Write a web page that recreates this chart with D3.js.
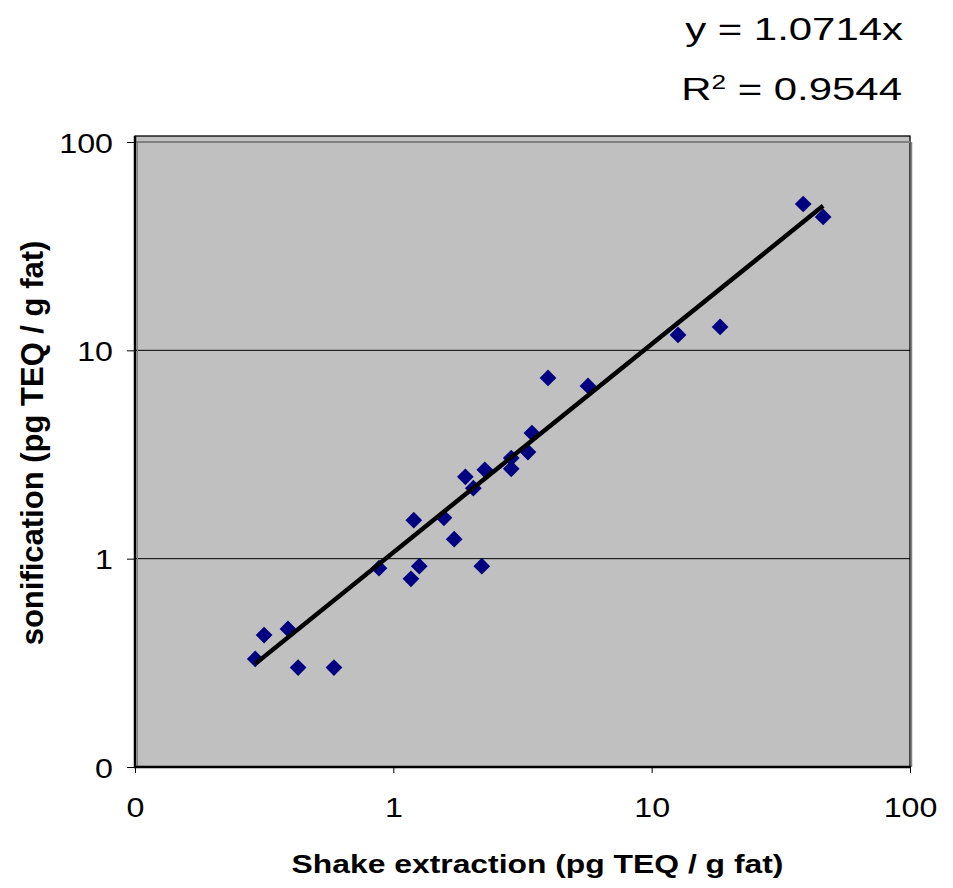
<!DOCTYPE html>
<html>
<head>
<meta charset="utf-8">
<script src="https://cdn.jsdelivr.net/npm/d3@7"></script>
<style>
  html, body { margin: 0; padding: 0; background: #fff; }
  svg { display: block; font-family: "Liberation Sans", Arial, sans-serif; }
</style>
</head>
<body>
<svg id="chart" width="953" height="888"></svg>
<script>
// ---- data ----
const shakeX = [0.292, 0.316, 0.391, 0.428, 0.589, 0.88, 1.17, 1.20, 1.26, 1.57, 1.72, 1.90, 2.04, 2.26, 2.20, 2.86, 2.86, 3.44, 3.32, 3.97, 5.67, 12.65, 18.4, 38.6, 46.1];
const sonicY = [0.33, 0.43, 0.46, 0.30, 0.30, 0.90, 0.80, 1.53, 0.92, 1.57, 1.24, 2.47, 2.18, 2.67, 0.92, 3.04, 2.70, 4.01, 3.25, 7.37, 6.75, 11.86, 12.95, 50.4, 43.7];
const slope = 1.0714;
const r2 = "0.9544";
const tickValues = [0.1, 1, 10, 100];
const tickLabels = ["0", "1", "10", "100"];
const xTitle = "Shake extraction (pg TEQ / g fat)";
const yTitle = "sonification (pg TEQ / g fat)";

const svg = d3.select("#chart");
const mLeft = 135, mRight = 910, mTop = 142, mBottom = 767, boxTop = 136;

const x = d3.scaleLog().domain([0.1, 100]).range([mLeft, mRight]);
const y = d3.scaleLog().domain([0.1, 100]).range([mBottom, mTop]);

// plot area
svg.append("rect")
  .attr("x", mLeft).attr("y", boxTop)
  .attr("width", mRight - mLeft).attr("height", mBottom - boxTop)
  .attr("fill", "#C0C0C0")
  .attr("stroke", "#000").attr("stroke-width", 1.3);

// gridlines
svg.append("g").selectAll("line")
  .data(tickValues.filter(v => v > 0.1))
  .join("line")
  .attr("x1", mLeft).attr("x2", mRight)
  .attr("y1", d => y(d)).attr("y2", d => y(d))
  .attr("stroke", d => d === 100 ? "#808080" : "#000")
  .attr("stroke-width", d => d === 100 ? 2.2 : 1);

// right gray inner edge
svg.append("line")
  .attr("x1", mRight + 1.5).attr("x2", mRight + 1.5)
  .attr("y1", mTop).attr("y2", mBottom)
  .attr("stroke", "#808080").attr("stroke-width", 1.5);

// left axis
svg.append("line")
  .attr("x1", mLeft).attr("x2", mLeft).attr("y1", boxTop).attr("y2", mBottom + 1)
  .attr("stroke", "#000").attr("stroke-width", 2.5);
svg.append("line")
  .attr("x1", mLeft + 2.5).attr("x2", mLeft + 2.5).attr("y1", mTop).attr("y2", mBottom)
  .attr("stroke", "#808080").attr("stroke-width", 1);
// bottom axis
svg.append("line")
  .attr("x1", mLeft - 1).attr("x2", mRight + 1).attr("y1", mBottom).attr("y2", mBottom)
  .attr("stroke", "#000").attr("stroke-width", 2.5);

// y ticks
const yAxis = d3.axisLeft(y).tickValues(tickValues)
  .tickFormat((d, i) => tickLabels[i]).tickSize(8).tickPadding(14);
const gy = svg.append("g").attr("transform", `translate(${mLeft},0)`).call(yAxis);
gy.select(".domain").remove();
gy.selectAll(".tick line").attr("stroke", "#000").attr("stroke-width", 1);
gy.selectAll(".tick text").attr("font-size", 28).attr("fill", "#000")
  .attr("font-family", "Liberation Sans, Arial, sans-serif").attr("dy", "0.36em")
  .attr("x", 0).attr("transform", "translate(-22,0) scale(1.15,1)");

// x ticks
const xAxis = d3.axisBottom(x).tickValues(tickValues)
  .tickFormat((d, i) => tickLabels[i]).tickSize(6).tickPadding(24);
const gx = svg.append("g").attr("transform", `translate(0,${mBottom})`).call(xAxis);
gx.select(".domain").remove();
gx.selectAll(".tick line").attr("stroke", "#000").attr("stroke-width", 1);
gx.selectAll(".tick text").attr("font-size", 28).attr("fill", "#000")
  .attr("font-family", "Liberation Sans, Arial, sans-serif").attr("dy", "0.71em")
  .attr("transform", "scale(1.15,1)");

// points
const pts = shakeX.map((v, i) => ({ x: v, y: sonicY[i] }));
svg.append("g").selectAll("path")
  .data(pts)
  .join("path")
  .attr("d", d3.symbol(d3.symbolSquare, 140))
  .attr("transform", d => `translate(${x(d.x)},${y(d.y)}) rotate(45)`)
  .attr("fill", "#000080");

// trend line y = slope * x
const xMin = d3.min(shakeX), xMax = d3.max(shakeX);
const trend = [xMin, xMax].map(v => ({ x: v, y: slope * v }));
svg.append("path")
  .datum(trend)
  .attr("d", d3.line().x(d => x(d.x)).y(d => y(d.y)))
  .attr("fill", "none").attr("stroke", "#000").attr("stroke-width", 4.5);

// equation text
svg.append("text")
  .attr("transform", "translate(903,40) scale(1.31,1)")
  .attr("text-anchor", "end").attr("font-size", 32).attr("fill", "#000")
  .text(`y = ${slope}x`);
const rt = svg.append("text")
  .attr("transform", "translate(902,100) scale(1.31,1)")
  .attr("text-anchor", "end").attr("font-size", 32).attr("fill", "#000");
rt.append("tspan").text("R");
rt.append("tspan").attr("font-size", 20).attr("dy", -11).text("2");
rt.append("tspan").attr("dy", 11).text(` = ${r2}`);

// axis titles
svg.append("text")
  .attr("transform", `translate(${(mLeft + mRight) / 2 + 15},873) scale(1.225,1)`)
  .attr("text-anchor", "middle").attr("font-size", 26).attr("font-weight", "bold")
  .attr("fill", "#000")
  .text(xTitle);
svg.append("text")
  .attr("transform", `translate(43,443) rotate(-90)`)
  .attr("text-anchor", "middle").attr("font-size", 31).attr("font-weight", "bold")
  .attr("fill", "#000")
  .text(yTitle);
</script>
</body>
</html>
